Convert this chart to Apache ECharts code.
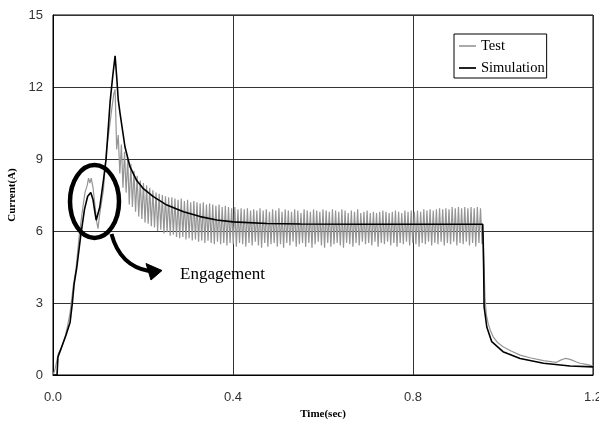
<!DOCTYPE html>
<html>
<head>
<meta charset="utf-8">
<script src="https://cdn.jsdelivr.net/npm/echarts@6/dist/echarts.min.js"></script>
<style>html,body{margin:0;padding:0;background:#fff;}#c{width:599px;height:425px;}</style>
</head>
<body>
<div id="c"></div>
<script>
// ---- data ----
const seriesNames = ['Test', 'Simulation'];
const xTicks = [0.0, 0.4, 0.8, 1.2];
const yTicks = [0, 3, 6, 9, 12, 15];

// Simulation: time (s) and current (A)
const simT = [0, 0.009, 0.011, 0.018, 0.029, 0.038, 0.043, 0.047, 0.053, 0.0615, 0.07, 0.077, 0.084, 0.089, 0.093, 0.096, 0.100, 0.104, 0.112, 0.118, 0.127, 0.133, 0.138, 0.142, 0.145, 0.149, 0.16, 0.171, 0.186, 0.2, 0.223, 0.253, 0.29, 0.327, 0.364, 0.4, 0.475, 0.55, 0.7, 0.955, 0.957, 0.958, 0.964, 0.975, 1.0, 1.038, 1.09, 1.149, 1.2];
const simI = [0, 0, 0.75, 1.1, 1.67, 2.2, 3.0, 3.8, 4.5, 5.8, 6.9, 7.45, 7.6, 7.3, 6.8, 6.45, 6.5, 7.0, 8.1, 9.0, 11.4, 12.5, 13.3, 12.3, 11.46, 10.9, 9.5, 8.68, 8.1, 7.78, 7.43, 7.08, 6.8, 6.6, 6.46, 6.38, 6.31, 6.29, 6.28, 6.28, 4.5, 2.85, 2.0, 1.39, 0.97, 0.69, 0.49, 0.375, 0.34];

// Test: rising part
const testRiseT = [0, 0.004, 0.012, 0.02, 0.027, 0.033, 0.038, 0.045, 0.051, 0.058, 0.065, 0.071, 0.076, 0.079, 0.082, 0.085, 0.089, 0.093, 0.097, 0.100, 0.103, 0.107, 0.112, 0.116, 0.119, 0.124, 0.13, 0.135, 0.138];
const testRiseI = [0, 0.2, 0.9, 1.2, 1.6, 2.1, 2.6, 3.7, 4.4, 5.76, 6.8, 7.6, 7.9, 8.2, 8.0, 8.2, 7.8, 7.1, 6.4, 6.1, 6.6, 7.1, 7.7, 8.7, 9.4, 10.1, 11.0, 11.7, 11.9];

// Test: ripple part, sampled every testOscStep seconds from testOscStart
const testOscStart = 0.1415;
const testOscStep = 0.0035;
const testOscI = [
  9.4, 10.0, 8.4, 9.6, 7.8, 9.3, 7.6, 9.0, 7.1, 8.8,
  7.0, 8.5, 6.8, 8.3, 6.6, 8.1, 6.5, 8.0, 6.35, 7.9,
  6.3, 7.8, 6.2, 7.7, 6.15, 7.6, 6.0, 7.55, 6.05, 7.5,
  5.9, 7.45, 5.95, 7.4, 5.8, 7.4, 5.85, 7.35, 5.75, 7.3,
  5.7, 7.35, 5.75, 7.25, 5.65, 7.3, 5.7, 7.2, 5.6, 7.25,
  5.65, 7.2, 5.55, 7.15, 5.6, 7.2, 5.5, 7.1, 5.6, 7.15,
  5.5, 7.1, 5.45, 7.05, 5.55, 7.1, 5.45, 7.0, 5.5, 7.05,
  5.4, 7.0, 5.5, 6.95, 5.45, 7.0, 5.35, 6.9, 5.5, 6.95,
  5.45, 6.9, 5.35, 6.95, 5.5, 6.85, 5.4, 6.9, 5.55, 6.85,
  5.4, 6.95, 5.3, 6.85, 5.5, 6.9, 5.35, 6.8, 5.45, 6.9,
  5.5, 6.85, 5.35, 6.95, 5.45, 6.8, 5.3, 6.9, 5.5, 6.85,
  5.4, 6.8, 5.55, 6.9, 5.35, 6.85, 5.45, 6.75, 5.5, 6.9,
  5.35, 6.85, 5.5, 6.8, 5.3, 6.9, 5.45, 6.85, 5.55, 6.8,
  5.4, 6.9, 5.3, 6.85, 5.5, 6.8, 5.35, 6.9, 5.45, 6.85,
  5.5, 6.8, 5.4, 6.9, 5.3, 6.85, 5.5, 6.75, 5.45, 6.85,
  5.35, 6.8, 5.5, 6.9, 5.4, 6.75, 5.55, 6.8, 5.45, 6.85,
  5.5, 6.75, 5.4, 6.8, 5.55, 6.75, 5.35, 6.8, 5.5, 6.85,
  5.45, 6.8, 5.55, 6.75, 5.4, 6.8, 5.5, 6.85, 5.35, 6.8,
  5.5, 6.75, 5.45, 6.85, 5.55, 6.8, 5.4, 6.85, 5.5, 6.8,
  5.45, 6.85, 5.35, 6.8, 5.5, 6.9, 5.45, 6.85, 5.55, 6.9,
  5.4, 6.85, 5.5, 6.9, 5.45, 6.95, 5.55, 6.9, 5.4, 6.95,
  5.5, 6.9, 5.45, 7.0, 5.55, 6.95, 5.4, 7.0, 5.5, 6.95,
  5.45, 7.0, 5.55, 6.95, 5.4, 7.0, 5.5, 6.95, 5.35, 7.0,
  5.5, 6.95, 5.45
];

// Test: falling part
const testFallT = [0.956, 0.958, 0.96, 0.963, 0.967, 0.972, 0.978, 0.988, 1.0, 1.018, 1.038, 1.06, 1.09, 1.11, 1.119, 1.128, 1.138, 1.145, 1.152, 1.162, 1.171, 1.185, 1.197, 1.2];
const testFallI = [6.0, 4.5, 3.2, 2.5, 2.15, 1.85, 1.6, 1.35, 1.18, 1.0, 0.83, 0.72, 0.6, 0.55, 0.53, 0.62, 0.69, 0.67, 0.63, 0.55, 0.49, 0.44, 0.39, 0.38];

// ---- build series data ----
const simData = simT.map((t, i) => [t, simI[i]]);
const testData = [];
testRiseT.forEach((t, i) => testData.push([t, testRiseI[i]]));
testOscI.forEach((v, i) => testData.push([+(testOscStart + i * testOscStep).toFixed(4), v]));
testFallT.forEach((t, i) => testData.push([t, testFallI[i]]));

const chart = echarts.init(document.getElementById('c'), null, {renderer: 'canvas'});
const serif = '"Times New Roman", "Liberation Serif", serif';
const sans = 'Arial, "Liberation Sans", sans-serif';

chart.setOption({
  animation: false,
  backgroundColor: '#fff',
  grid: {left: 53, right: 6, top: 15, bottom: 50, show: true, borderColor: '#000', borderWidth: 1,
         containLabel: false, outerBoundsMode: 'none'},
  legend: {
    orient: 'vertical', left: 454, top: 34,
    data: seriesNames,
    borderColor: '#000', borderWidth: 1, borderRadius: 0,
    padding: [4, 2, 2, 5], itemGap: 6,
    itemWidth: 17, itemHeight: 2, icon: 'rect',
    textStyle: {fontFamily: serif, fontSize: 14.5, color: '#000', lineHeight: 16}
  },
  xAxis: {
    type: 'value', min: xTicks[0], max: xTicks[xTicks.length - 1], interval: 0.4,
    name: 'Time(sec)', nameLocation: 'middle', nameGap: 31,
    nameTextStyle: {fontFamily: serif, fontWeight: 'bold', fontSize: 11, color: '#000'},
    axisLine: {lineStyle: {color: '#000', width: 1}},
    axisTick: {show: false},
    axisLabel: {margin: 16, fontFamily: sans, fontSize: 13, color: '#333', formatter: v => v.toFixed(1)},
    splitLine: {show: true, lineStyle: {color: '#333', width: 1}}
  },
  yAxis: {
    type: 'value', min: yTicks[0], max: yTicks[yTicks.length - 1], interval: 3,
    name: 'Current(A)', nameLocation: 'middle', nameGap: 30,
    nameTextStyle: {fontFamily: serif, fontWeight: 'bold', fontSize: 11, color: '#000'},
    axisLine: {show: true, lineStyle: {color: '#000', width: 1}},
    axisTick: {show: false},
    axisLabel: {margin: 10, fontFamily: sans, fontSize: 13, color: '#333'},
    splitLine: {show: true, lineStyle: {color: '#333', width: 1}}
  },
  series: [
    {name: seriesNames[0], type: 'line', data: testData, symbol: 'none', showSymbol: false,
     lineStyle: {color: '#959595', width: 1.2}, itemStyle: {color: '#aaaaaa'}, z: 2},
    {name: seriesNames[1], type: 'line', data: simData, symbol: 'none', showSymbol: false,
     lineStyle: {color: '#000', width: 1.6}, itemStyle: {color: '#222'}, z: 3}
  ]
});

// ---- annotation (ellipse around the engagement bump, curved arrow, label) ----
chart.setOption({
  graphic: [
    {type: 'ellipse', shape: {cx: 94.5, cy: 201.5, rx: 24.5, ry: 36.5},
     style: {fill: 'none', stroke: '#000', lineWidth: 4.5}, z: 10},
    {type: 'bezierCurve', shape: {x1: 111.5, y1: 234, cpx1: 120, cpy1: 266, x2: 149, y2: 271},
     style: {fill: 'none', stroke: '#000', lineWidth: 4}, z: 10},
    {type: 'polygon', shape: {points: [[162, 270.5], [146, 263.5], [151, 280]]},
     style: {fill: '#000', stroke: '#000', lineWidth: 1}, z: 10},
    {type: 'text', left: 180, top: 266,
     style: {text: 'Engagement', font: '17px ' + serif, fill: '#000'}, z: 10}
  ]
});
</script>
</body>
</html>
